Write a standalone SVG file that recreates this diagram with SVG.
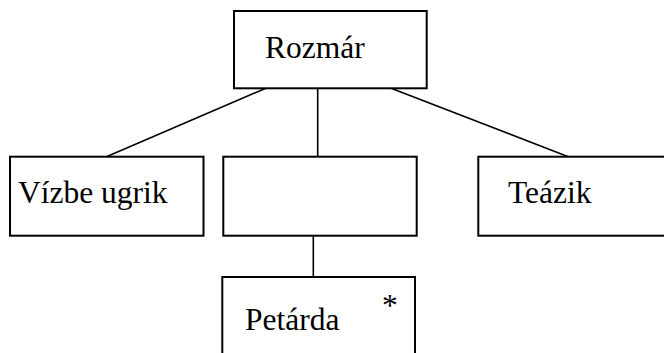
<svg xmlns="http://www.w3.org/2000/svg" width="664" height="353" viewBox="0 0 664 353">
<style>
.box{fill:#fff;stroke:#000;stroke-width:2}
.ln{stroke:#000;stroke-width:1.6;fill:none}
.t{font-family:"Liberation Serif","Times New Roman",serif;font-size:31.5px;fill:#000}
</style>
<rect width="664" height="353" fill="#fff"/>
<g id="connectors">
<line class="ln" x1="271" y1="86" x2="107" y2="156.5"/>
<line class="ln" x1="317.7" y1="86" x2="317.7" y2="156.5"/>
<line class="ln" x1="391.7" y1="88.5" x2="567.7" y2="156.5"/>
<line class="ln" x1="313.3" y1="231" x2="313.3" y2="277"/>
</g>
<g id="rozmar">
<rect class="box" x="234" y="11" width="192.7" height="77.3"/>
<text class="t" x="265" y="58.3">Rozmár</text>
</g>
<g id="vizbe">
<rect class="box" x="10" y="156.7" width="193.5" height="79"/>
<text class="t" x="18" y="203">Vízbe ugrik</text>
</g>
<g id="empty">
<rect class="box" x="223.3" y="156.7" width="193.4" height="79"/>
</g>
<g id="teazik">
<rect class="box" x="478.3" y="156.7" width="194" height="79"/>
<text class="t" x="508" y="203">Teázik</text>
</g>
<g id="petarda">
<rect class="box" x="222.3" y="277" width="192.7" height="90"/>
<text class="t" x="245" y="330">Petárda</text>
<text class="t" x="382" y="316">*</text>
</g>
</svg>
